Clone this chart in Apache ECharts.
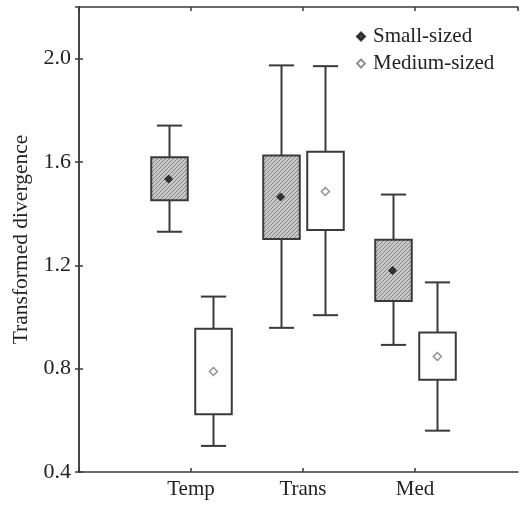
<!DOCTYPE html>
<html>
<head>
<meta charset="utf-8">
<script src="https://cdn.jsdelivr.net/npm/echarts@6/dist/echarts.min.js"></script>
<style>
  html, body { margin: 0; padding: 0; background: #fff; }
  #chart { width: 520px; height: 509px; }
</style>
</head>
<body>
<div id="chart"></div>
<script>
// Groups along the x axis (placed at x = 1, 2, 3)
var categories = ['Temp', 'Trans', 'Med'];
var seriesNames = ['Small-sized', 'Medium-sized'];

// Small-sized: whisker low, box bottom, box top, whisker high, mean
var smallLow  = [1.330, 0.958, 0.892];
var smallQ1   = [1.452, 1.302, 1.062];
var smallQ3   = [1.618, 1.625, 1.299];
var smallHigh = [1.741, 1.974, 1.474];
var smallMean = [1.534, 1.465, 1.180];

// Medium-sized
var mediumLow  = [0.501, 1.007, 0.560];
var mediumQ1   = [0.624, 1.337, 0.757];
var mediumQ3   = [0.955, 1.640, 0.940];
var mediumHigh = [1.079, 1.971, 1.134];
var mediumMean = [0.789, 1.486, 0.847];

var yTicks = [0.4, 0.8, 1.2, 1.6, 2.0];

var FONT = '"Liberation Serif", "DejaVu Serif", serif';
var INK = '#3a3a3a';
var TEXT = '#222';
var GROUP_SHIFT = 0.2;
var BOX_W = 0.326;
var CAP_W = 0.225;

// Fine diagonal hatch used for the small-sized boxes
function hatchPattern() {
  var c = document.createElement('canvas');
  c.width = 4; c.height = 4;
  var g = c.getContext('2d');
  g.fillStyle = '#c8c8c8';
  g.fillRect(0, 0, 4, 4);
  g.strokeStyle = '#858585';
  g.lineWidth = 1;
  g.beginPath();
  g.moveTo(0, 4); g.lineTo(4, 0);
  g.moveTo(-1, 1); g.lineTo(1, -1);
  g.moveTo(3, 5); g.lineTo(5, 3);
  g.stroke();
  return c;
}

function boxRows(low, q1, q3, high, shift) {
  return categories.map(function (_, i) {
    return [i + 1 + shift, low[i], q1[i], q3[i], high[i]];
  });
}

function makeRenderer(fill) {
  return function (params, api) {
    var x = api.value(0);
    var pLow = api.coord([x, api.value(1)]);
    var pQ1 = api.coord([x, api.value(2)]);
    var pQ3 = api.coord([x, api.value(3)]);
    var pHigh = api.coord([x, api.value(4)]);
    var bw = api.size([BOX_W, 0])[0];
    var cw = api.size([CAP_W, 0])[0];
    var cx = Math.round(pLow[0]) + 0.5;
    var line = { stroke: INK, lineWidth: 2 };
    return {
      type: 'group',
      children: [
        { type: 'line', shape: { x1: cx, y1: pHigh[1], x2: cx, y2: pQ3[1] }, style: line },
        { type: 'line', shape: { x1: cx, y1: pQ1[1], x2: cx, y2: pLow[1] }, style: line },
        { type: 'line', shape: { x1: cx - cw / 2, y1: pHigh[1], x2: cx + cw / 2, y2: pHigh[1] }, style: line },
        { type: 'line', shape: { x1: cx - cw / 2, y1: pLow[1], x2: cx + cw / 2, y2: pLow[1] }, style: line },
        { type: 'rect', shape: { x: cx - bw / 2, y: pQ3[1], width: bw, height: pQ1[1] - pQ3[1] },
          style: { fill: fill, stroke: INK, lineWidth: 2 } }
      ]
    };
  };
}

var chart = echarts.init(document.getElementById('chart'), null, { renderer: 'canvas' });

var hatch = { image: hatchPattern(), repeat: 'repeat' };

var xCommon = {
  type: 'value', min: 0, max: 3.92, interval: 1,
  splitLine: { show: false },
  axisLine: { show: true, lineStyle: { color: INK, width: 1.5 } },
  axisTick: { show: true, inside: true, length: 4, lineStyle: { color: INK, width: 1.5 } }
};
var yCommon = {
  type: 'value', min: 0.4, max: 2.2, interval: 0.4,
  splitLine: { show: false },
  axisLine: { show: true, lineStyle: { color: INK, width: 1.5 } },
  axisTick: { show: true, inside: true, length: 4, lineStyle: { color: INK, width: 1.5 } }
};

chart.setOption({
  backgroundColor: '#ffffff',
  animation: false,
  grid: { left: 79, right: 2, top: 7, bottom: 37, containLabel: false, outerBoundsMode: 'none' },
  legend: {
    show: true,
    data: seriesNames,
    orient: 'vertical',
    left: 351, top: 21,
    itemWidth: 8, itemHeight: 8, itemGap: 6,
    icon: 'diamond',
    textStyle: { fontFamily: FONT, fontSize: 21, color: TEXT, padding: [0, 0, 0, 3] }
  },
  xAxis: [
    Object.assign({}, xCommon, {
      position: 'bottom',
      axisLabel: {
        show: true, margin: 7, fontFamily: FONT, fontSize: 21, color: TEXT,
        showMaxLabel: false,
        formatter: function (v) { return categories[Math.round(v) - 1] || ''; }
      }
    }),
    Object.assign({}, xCommon, { position: 'top', axisLabel: { show: false } })
  ],
  yAxis: [
    Object.assign({}, yCommon, {
      position: 'left',
      name: 'Transformed divergence',
      nameLocation: 'middle',
      nameGap: 43,
      nameTextStyle: { fontFamily: FONT, fontSize: 21.5, color: TEXT },
      axisLabel: {
        show: true, margin: 8, fontFamily: FONT, fontSize: 22, color: TEXT,
        showMaxLabel: false,
        formatter: function (v) { return yTicks.indexOf(+v.toFixed(1)) >= 0 ? v.toFixed(1) : ''; }
      }
    }),
    Object.assign({}, yCommon, { position: 'right', axisLabel: { show: false } })
  ],
  series: [
    {
      type: 'custom', name: 'smallBoxes', silent: true,
      renderItem: makeRenderer(hatch),
      encode: { x: 0, y: [1, 2, 3, 4] },
      data: boxRows(smallLow, smallQ1, smallQ3, smallHigh, -GROUP_SHIFT),
      z: 2
    },
    {
      type: 'custom', name: 'mediumBoxes', silent: true,
      renderItem: makeRenderer('#ffffff'),
      encode: { x: 0, y: [1, 2, 3, 4] },
      data: boxRows(mediumLow, mediumQ1, mediumQ3, mediumHigh, GROUP_SHIFT),
      z: 2
    },
    {
      type: 'scatter', name: seriesNames[0],
      symbol: 'diamond', symbolSize: 8,
      itemStyle: { color: '#111', borderColor: '#111', borderWidth: 1 },
      data: categories.map(function (_, i) { return [i + 1 - GROUP_SHIFT, smallMean[i]]; }),
      z: 5
    },
    {
      type: 'scatter', name: seriesNames[1],
      symbol: 'diamond', symbolSize: 8,
      itemStyle: { color: '#ffffff', borderColor: '#777', borderWidth: 1.5 },
      data: categories.map(function (_, i) { return [i + 1 + GROUP_SHIFT, mediumMean[i]]; }),
      z: 5
    }
  ]
});
</script>
</body>
</html>
